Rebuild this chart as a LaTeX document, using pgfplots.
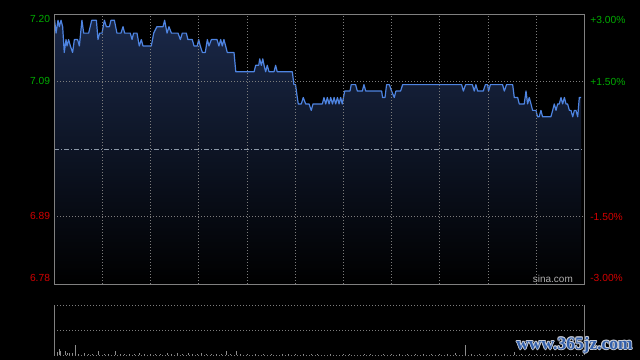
\documentclass[border=0pt]{standalone}
\usepackage{pgfplots}
\pgfplotsset{compat=1.18}
\usepackage{pgfplotstable}
\usepackage{fontspec}
\setmainfont{Liberation Sans}
\newfontfamily\wmfont{Liberation Serif}
\definecolor{upg}{RGB}{0,170,0}
\definecolor{dnr}{RGB}{210,0,0}
\definecolor{linec}{RGB}{78,132,225}
\definecolor{fillc}{RGB}{26,40,72}
\definecolor{gridc}{RGB}{125,125,125}
\definecolor{framec}{RGB}{128,128,128}
\definecolor{prevc}{RGB}{140,152,168}
\definecolor{volc}{RGB}{140,140,140}
\definecolor{wmc}{RGB}{50,95,170}

\pgfplotstableread{
x p
0.2 7.19
1.1 7.17
2.3 7.19
3.1 7.18
4.2 7.19
5.2 7.18
6.2 7.14
7.3 7.16
7.9 7.15
8.9 7.16
10.0 7.15
11.4 7.14
12.5 7.16
14.5 7.16
15.6 7.15
17.2 7.19
18.3 7.17
21.4 7.17
23.3 7.19
26.2 7.19
27.2 7.16
28.2 7.17
29.7 7.17
31.2 7.19
32.4 7.18
34.3 7.18
35.3 7.19
37.4 7.19
39.0 7.17
41.5 7.17
42.8 7.18
43.8 7.17
47.3 7.17
48.4 7.16
49.4 7.17
51.5 7.17
52.9 7.15
54.2 7.16
55.2 7.15
60.4 7.15
61.9 7.17
63.9 7.18
67.7 7.18
68.7 7.19
70.2 7.17
71.4 7.18
72.9 7.17
77.0 7.17
78.5 7.16
79.7 7.17
82.2 7.17
83.2 7.16
85.9 7.16
87.0 7.15
89.0 7.15
89.9 7.16
90.9 7.15
92.2 7.14
94.0 7.14
95.3 7.16
96.3 7.15
97.8 7.16
101.3 7.16
102.5 7.15
103.6 7.16
104.6 7.15
105.6 7.16
106.7 7.15
107.7 7.14
111.9 7.14
113.0 7.11
124.4 7.11
125.4 7.12
127.3 7.12
127.9 7.13
128.9 7.12
129.8 7.13
130.6 7.12
131.6 7.11
132.6 7.12
133.7 7.11
136.8 7.11
137.8 7.12
138.8 7.11
148.2 7.11
149.2 7.09
150.2 7.09
151.3 7.07
151.9 7.06
153.8 7.06
155.0 7.07
156.5 7.06
158.6 7.06
160.0 7.05
161.1 7.06
166.9 7.06
167.9 7.07
169.0 7.06
170.0 7.07
171.1 7.06
172.1 7.07
173.2 7.06
174.2 7.07
175.2 7.06
176.3 7.07
177.3 7.06
178.3 7.07
179.3 7.06
180.8 7.08
184.1 7.08
184.9 7.09
187.6 7.09
188.7 7.08
191.8 7.08
192.8 7.09
193.9 7.08
203.8 7.08
204.4 7.07
205.9 7.07
206.9 7.09
208.6 7.09
210.0 7.08
211.7 7.07
212.7 7.08
215.6 7.08
216.9 7.09
253.6 7.09
254.7 7.08
256.1 7.09
260.3 7.09
261.5 7.08
262.5 7.09
263.6 7.08
267.1 7.08
268.4 7.09
269.8 7.09
270.4 7.08
271.5 7.09
279.1 7.09
280.2 7.08
281.6 7.09
285.4 7.09
286.4 7.07
288.5 7.07
289.5 7.06
292.6 7.06
293.7 7.08
294.7 7.06
295.7 7.07
296.8 7.06
297.8 7.05
299.9 7.05
300.9 7.04
301.9 7.04
303.0 7.05
304.0 7.04
309.2 7.04
310.3 7.05
311.3 7.06
312.4 7.05
313.4 7.06
314.4 7.06
315.5 7.07
316.5 7.06
317.6 7.07
318.6 7.06
319.6 7.06
320.7 7.05
321.7 7.05
322.8 7.04
323.8 7.05
324.8 7.05
325.9 7.04
326.9 7.07
328.0 7.07
}\pricetab

\pgfplotstableread{
x v
0.4 14
1.9 3.3
3.1 6
3.7 4
6.8 4
8.3 2
9.3 2
11.6 2
13.1 10
15 1
18.7 2
21 1
24 1.2
27.8 4
31 1
34 1.2
37.8 4
41 1
44 1.2
47 1
50 1
52.9 2
56 1
60 1.2
63 1
66 1
70.6 2
73 1
76.6 2
80 1
83.4 2
86 1
89 1
91.5 2
95 1
98 1.2
101 1
104 1
107.3 4
110 1
113.3 4
116 1
120 1.2
125 1
130 1
135 1.2
142 1
146 1
150 1.2
155 1
160 1
164 1.2
172 1
180 1
184 1.2
193 1
197 1
205 1.2
210 1
215 1
220 1.2
225 1
230 1
235 1.2
240 1
245 1
249.5 2
255.9 10
260 1
265 1.2
270 1
275 1
280 1.2
286.8 2.7
291 1
296 1
300 1.2
305 1
310 1
315 1.2
320 1
325 1
}\voltab

\begin{document}
\begin{tikzpicture}
\fill[black] (0,0) rectangle (640bp,360bp);

% main price panel
\begin{axis}[
  at={(54.3bp,76bp)}, anchor=south west,
  scale only axis, width=530bp, height=270bp,
  xmin=0, xmax=330, ymin=6.7803, ymax=7.1997,
  axis on top,
  axis line style={draw=framec, line width=0.9bp},
  xtick={30,60,...,300}, xticklabels={},
  xmajorgrids,
  major grid style={draw=gridc, line width=0.8bp, dash pattern=on 1bp off 2bp},
  major tick length=0pt,
  ytick={6.7904,6.8852,7.0949,7.1912},
  yticklabels={\textcolor{dnr}{6.78},\textcolor{dnr}{6.89},\textcolor{upg}{7.09},\textcolor{upg}{7.20}},
  yticklabel style={font=\fontsize{10.3}{12}\selectfont, xshift=-0.8bp},
  extra y ticks={6.8852,7.0949},
  extra y tick labels={},
  extra y tick style={grid=major},
  clip=true,
]
\addplot[draw=none, top color=fillc, bottom color=black] table[x=x,y=p] {\pricetab}
  -- (axis cs:328.0,6.7803) -- (axis cs:0.2,6.7803) -- cycle;
\addplot[prevc, line width=0.9bp, dash pattern=on 5bp off 2bp on 1bp off 2bp] coordinates {(0,6.99) (330,6.99)};
\addplot[linec, line width=1.2bp, line join=round] table[x=x,y=p] {\pricetab};
\end{axis}

% right percent axis
\begin{axis}[
  at={(54.3bp,76bp)}, anchor=south west,
  scale only axis, width=530bp, height=270bp,
  xmin=0, xmax=330, ymin=-3, ymax=3,
  hide x axis,
  axis y line*=right,
  y axis line style={draw=none},
  major tick length=0pt,
  ytick={-2.856,-1.5,1.5,2.878},
  yticklabels={\textcolor{dnr}{-3.00\%},\textcolor{dnr}{-1.50\%},\textcolor{upg}{+1.50\%},\textcolor{upg}{+3.00\%}},
  yticklabel style={font=\fontsize{10.3}{12}\selectfont, xshift=2.5bp},
]
\addplot[draw=none] coordinates {(0,0)};
\end{axis}

% volume panel
\begin{axis}[
  at={(54.3bp,5bp)}, anchor=south west,
  scale only axis, width=530bp, height=50bp,
  xmin=0, xmax=330, ymin=0, ymax=50,
  axis line style={draw=none},
  xtick=\empty,
  ytick={0,25,50}, yticklabels={},
  ymajorgrids,
  major grid style={draw=gridc, line width=0.8bp, dash pattern=on 1bp off 2bp},
  major tick length=0pt,
  clip=false,
]
\addplot[ycomb, volc, line width=1bp] table[x=x,y=v] {\voltab};
\draw[framec, line width=0.9bp] (rel axis cs:0,0) -- (rel axis cs:0,1);
\draw[framec, line width=0.9bp] (rel axis cs:1,0) -- (rel axis cs:1,1);
\end{axis}

\node[anchor=east, text={rgb,255:red,175;green,175;blue,175}, font=\fontsize{10}{12}\selectfont, inner sep=0pt] at (573bp,81bp) {sina.com};

% watermark
\foreach \dx/\dy in {0.9/0,-0.9/0,0/0.9,0/-0.9,0.65/0.65,-0.65/-0.65,0.65/-0.65,-0.65/0.65}{
  \node[text={rgb,255:red,200;green,205;blue,215}, font=\wmfont\bfseries\fontsize{17.5}{19}\selectfont, inner sep=0pt] at ([xshift=\dx bp, yshift=\dy bp]574.5bp,15bp) {www.365jz.com};
}
\node[text=wmc, font=\wmfont\bfseries\fontsize{17.5}{19}\selectfont, inner sep=0pt] at (574.5bp,15bp) {www.365jz.com};
\end{tikzpicture}
\end{document}
